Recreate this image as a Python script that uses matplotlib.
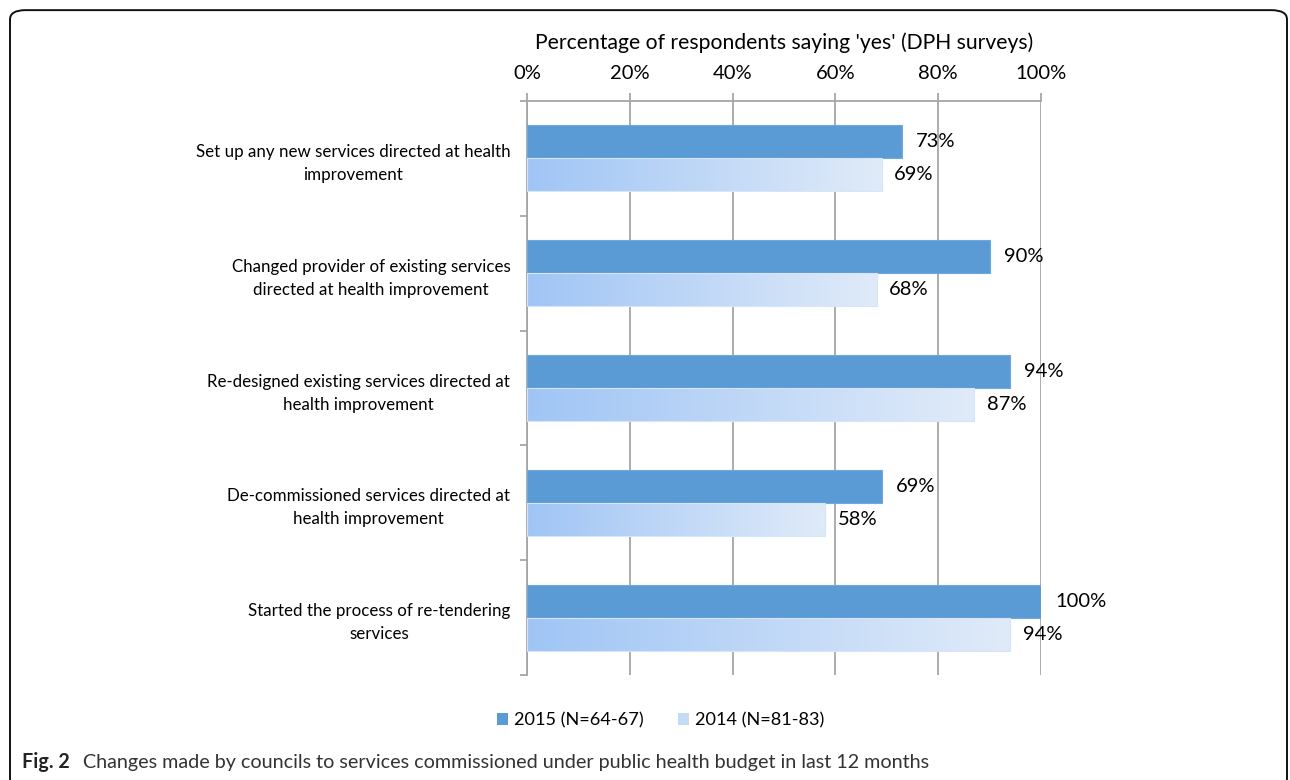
import numpy as np
import matplotlib
matplotlib.use("Agg")
import matplotlib.pyplot as plt
from matplotlib.colors import LinearSegmentedColormap
from matplotlib.patches import FancyBboxPatch, Patch
from matplotlib.ticker import FixedLocator, PercentFormatter

plt.rcParams["font.family"] = ["Lato", "DejaVu Sans"]

categories = [
    "Set up any new services directed at health\nimprovement",
    "Changed provider of existing services\ndirected at health improvement",
    "Re-designed existing services directed at\nhealth improvement",
    "De-commissioned services directed at\nhealth improvement",
    "Started the process of re-tendering\nservices",
]
pct_2015 = [73, 90, 94, 69, 100]
pct_2014 = [69, 68, 87, 58, 94]
series_names = ["2015 (N=64-67)", "2014 (N=81-83)"]
x_ticks = [0, 20, 40, 60, 80, 100]

blue = "#5B9BD5"
grad = LinearSegmentedColormap.from_list("g", ["#A0C5F5", "#E0EBF9"])
grid_col = "#A6A6A6"

fig = plt.figure(figsize=(12.9, 7.8), dpi=100)
ax = fig.add_axes([0.4085, 0.1346, 0.3985, 0.7359])

y = np.arange(len(categories))
h = 0.287

ax.barh(y - h / 2, pct_2015, height=h, color=blue, edgecolor="#6FA8DC", linewidth=0.8, zorder=3)
ax.barh(y + h / 2, pct_2014, height=h, color="none", edgecolor="#D6E5F8", linewidth=0.8, zorder=4)

# gradient fill for the 2014 bars
ramp = np.linspace(0, 1, 256).reshape(1, -1)
for yi, v in zip(y, pct_2014):
    ax.imshow(ramp, cmap=grad, aspect="auto", zorder=3,
              extent=[0, v, yi + h, yi], interpolation="bilinear")

for yi, v in zip(y, pct_2015):
    ax.annotate(f"{v}%", (v, yi - h / 2), xytext=(10, 0), textcoords="offset points",
                va="center", ha="left", fontsize=14.5, color="#000000", zorder=5)
for yi, v in zip(y, pct_2014):
    ax.annotate(f"{v}%", (v, yi + h / 2), xytext=(9, 0), textcoords="offset points",
                va="center", ha="left", fontsize=14.5, color="#000000", zorder=5)

ax.set_xlim(0, 100)
ax.set_ylim(len(categories) - 0.5, -0.5)

ax.xaxis.tick_top()
ax.xaxis.set_label_position("top")
ax.set_xticks(x_ticks)
ax.xaxis.set_major_formatter(PercentFormatter(decimals=0))
ax.tick_params(axis="x", length=6, width=1.3, color=grid_col, pad=8, labelsize=14.5)
ax.set_xlabel("Percentage of respondents saying 'yes' (DPH surveys)", fontsize=15.2, labelpad=11)
ax.grid(axis="x", color=grid_col, linewidth=1.3, zorder=0)

ax.set_yticks(y)
ax.set_yticklabels(categories, fontsize=12.2, multialignment="center", linespacing=1.55)
ax.yaxis.set_minor_locator(FixedLocator(np.arange(-0.5, len(categories), 1)))
ax.tick_params(axis="y", which="major", length=0, pad=12)
ax.tick_params(axis="y", which="minor", length=5, width=1.3, color=grid_col)

for s in ["right", "bottom"]:
    ax.spines[s].set_visible(False)
for s in ["top", "left"]:
    ax.spines[s].set_color(grid_col)
    ax.spines[s].set_linewidth(1.3)

handles = [Patch(facecolor=blue), Patch(facecolor="#C6DBF6")]
fig.legend(handles, series_names, loc="center", bbox_to_anchor=(0.512, 0.076), ncol=2,
           frameon=False, fontsize=13.1, handlelength=0.62, handleheight=0.62,
           handletextpad=0.3, columnspacing=1.9)

fig.text(0.017, 0.016, "Fig. 2", fontsize=14.2, fontweight="bold", color="#222222", va="baseline")
fig.text(0.0645, 0.016, "Changes made by councils to services commissioned under public health budget in last 12 months",
         fontsize=14.2, color="#333333", va="baseline")

box = FancyBboxPatch((10 / 1290, -0.01), 1277 / 1290, 0.997, transform=fig.transFigure,
                     boxstyle="round,pad=0,rounding_size=0.012", fill=False,
                     edgecolor="#111111", linewidth=1.4)
fig.patches.append(box)

fig.savefig("out.png", dpi=100)
